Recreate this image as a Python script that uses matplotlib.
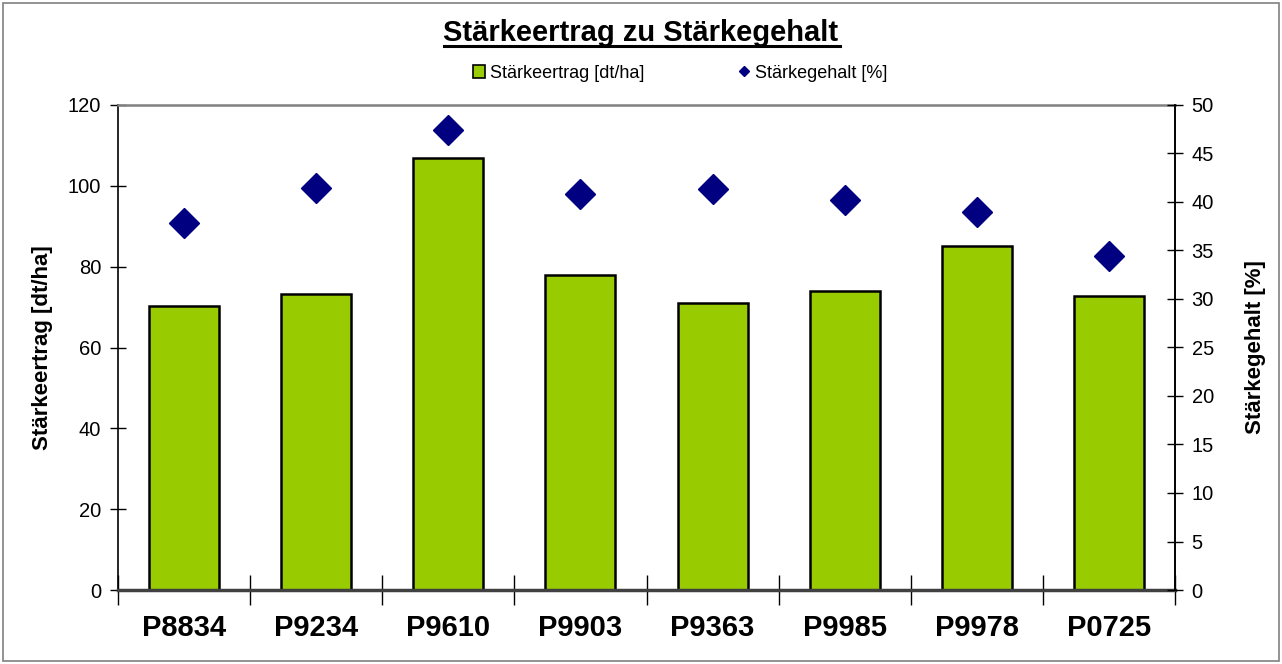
import matplotlib
matplotlib.use("Agg")
import matplotlib.pyplot as plt
from matplotlib.patches import Patch, Rectangle
from matplotlib.lines import Line2D
import numpy as np

plt.rcParams['font.family'] = ['Liberation Sans', 'DejaVu Sans']

categories = ["P8834", "P9234", "P9610", "P9903", "P9363", "P9985", "P9978", "P0725"]
ertrag = [70.3, 73.3, 106.9, 78.0, 71.1, 74.0, 85.0, 72.7]
gehalt = [37.8, 41.4, 47.4, 40.8, 41.3, 40.2, 39.0, 34.4]
left_ticks = [0, 20, 40, 60, 80, 100, 120]
right_ticks = [0, 5, 10, 15, 20, 25, 30, 35, 40, 45, 50]

green = "#99CC00"
navy = "#000080"

fig = plt.figure(figsize=(12.82, 6.64), dpi=100)
fig.patches.append(Rectangle((0.002, 0.004), 0.996, 0.992, transform=fig.transFigure,
                             fill=False, edgecolor="#808080", linewidth=1.2))

ax = fig.add_axes([118/1282, 74/664, 1057/1282, 485/664])
x = np.arange(len(categories))
ax.bar(x, ertrag, width=0.53, color=green, edgecolor="black", linewidth=1.8, zorder=2)
ax.set_xlim(-0.5, len(categories) - 0.5)
ax.set_ylim(0, 120)
ax.set_yticks(left_ticks)
ax.tick_params(axis='y', direction='inout', length=12, width=1, labelsize=14.5, pad=6)
ax.set_xticks(x)
ax.set_xticklabels(categories, fontsize=21, fontweight='bold')
ax.tick_params(axis='x', length=0, pad=17)
ax.set_xticks(np.arange(-0.5, len(categories), 1), minor=True)
ax.tick_params(axis='x', which='minor', direction='inout', length=22, width=1, color='black')
ax.spines['top'].set_color("#808080")
ax.spines['top'].set_linewidth(1.8)
ax.spines['bottom'].set_color("#404040")
ax.spines['bottom'].set_linewidth(2.5)
ax.spines['left'].set_linewidth(1.2)
ax.spines['right'].set_linewidth(1.2)
ax.set_ylabel("Stärkeertrag [dt/ha]", fontsize=16, fontweight='bold', labelpad=11)

ax2 = ax.twinx()
ax2.plot(x, gehalt, linestyle='none', marker='D', markersize=15.5, color=navy,
         markeredgecolor=navy, zorder=3)
ax2.set_ylim(0, 50)
ax2.set_yticks(right_ticks)
ax2.tick_params(axis='y', direction='inout', length=12, width=1, labelsize=14.5, pad=6)
ax2.set_ylabel("Stärkegehalt [%]", fontsize=16, fontweight='bold', labelpad=22)
for s in ['top', 'left', 'bottom']:
    ax2.spines[s].set_visible(False)
ax2.spines['right'].set_linewidth(1.2)

fig.text(0.5, 1 - 33/664, "Stärkeertrag zu Stärkegehalt", ha='center', va='center',
         fontsize=21, fontweight='bold')
# underline
fig.add_artist(Line2D([444/1282, 840/1282], [1 - 46/664, 1 - 46/664], color='black', linewidth=2.2))

handles = [Patch(facecolor=green, edgecolor='black', linewidth=1.2),
           Line2D([], [], linestyle='none', marker='D', markersize=5, color=navy)]
labels = ["Stärkeertrag [dt/ha]", "Stärkegehalt [%]"]
fig.legend(handles, labels, loc='center', bbox_to_anchor=(680/1282, 1 - 73/664), ncol=2,
           frameon=False, fontsize=13, handlelength=0.7, handleheight=0.7,
           handletextpad=0.25, columnspacing=5.2, borderpad=0)

fig.savefig("out.png", dpi=100)
